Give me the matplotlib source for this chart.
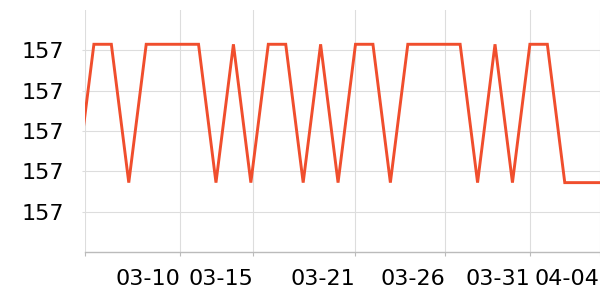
import matplotlib
matplotlib.use("Agg")
import matplotlib.pyplot as plt
from matplotlib.ticker import FormatStrFormatter

# daily values (H = high level, L = low level)
high = 157.1415
low = 157.1072
levels = "LHHLHHHHLHLHHLHLHHLHHHHLHLHHLLL"
values = [high if c == "H" else low for c in levels]
x = list(range(len(values)))

tick_pos = [0.49, 5.94, 10.13, 15.98, 21.14, 26.0, 30.0]
tick_labels = ["", "03-10", "03-15", "03-21", "03-26", "03-31", "04-04"]
y_ticks = [157.10, 157.11, 157.12, 157.13, 157.14]

fig = plt.figure(figsize=(6, 3), dpi=100)
ax = fig.add_axes([85 / 600, 48 / 300, 515 / 600, 242 / 300])

ax.plot(x, values, color="#f04e2d", lw=2.1, solid_joinstyle="miter")

ax.set_xlim(0.49, 30.02)
ax.set_ylim(157.09, 157.15)
ax.set_xticks(tick_pos)
ax.set_xticklabels(tick_labels, ha="right")
ax.set_yticks(y_ticks)
ax.yaxis.set_major_formatter(FormatStrFormatter("%.0f"))

ax.grid(True, color="#dddddd", lw=0.8)
ax.set_axisbelow(True)
for s in ["top", "right", "left"]:
    ax.spines[s].set_visible(False)
ax.spines["bottom"].set_color("#bbbbbb")
ax.spines["bottom"].set_linewidth(1.0)

ax.tick_params(axis="x", length=3, color="#bbbbbb", pad=9, labelsize=16)
ax.tick_params(axis="y", length=2, color="#dddddd", pad=13, labelsize=16)

fig.savefig("out.png", dpi=100)
